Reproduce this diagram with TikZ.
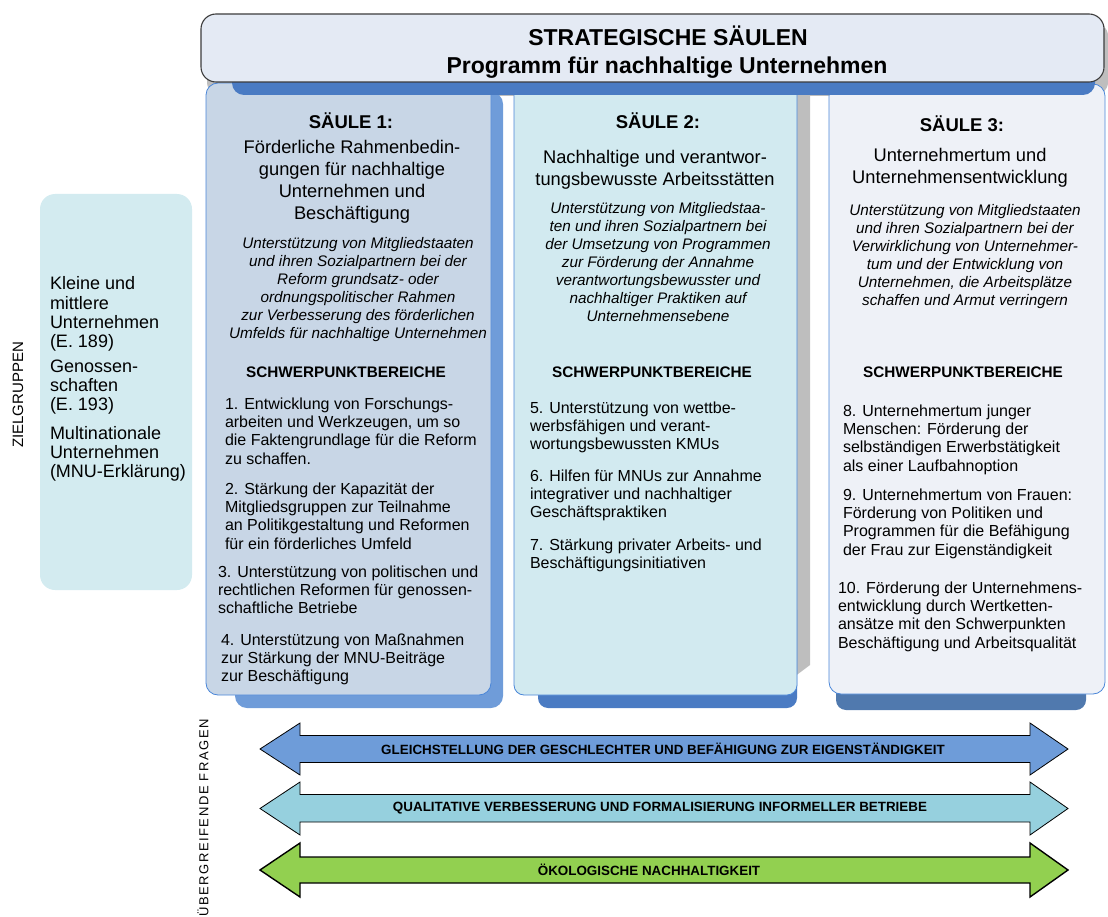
\documentclass[tikz,border=0pt]{standalone}
\usepackage{fontspec}
\setmainfont{Liberation Sans}
\newfontfamily\spacedsans[LetterSpace=12]{Liberation Sans}

% a block of lines whose reference point is the baseline of its first line
\newcommand\txtblock[2]{\begin{tabular}[t]{@{}#1@{}}#2\end{tabular}}

\definecolor{bannerfill}{HTML}{E4EAF4}
\definecolor{bannerline}{HTML}{3C3C3C}
\definecolor{stripblue}{HTML}{4A7BC3}
\definecolor{pillarline}{HTML}{4A86D8}
\definecolor{pOnefill}{HTML}{C8D6E6}
\definecolor{pOneshade}{HTML}{6F9CD9}
\definecolor{pTwofill}{HTML}{D2EAF0}
\definecolor{pTwoshade}{HTML}{4A7BC3}
\definecolor{pThreefill}{HTML}{EEF1F7}
\definecolor{pThreeshade}{HTML}{5079AE}
\definecolor{greyshade}{HTML}{BEBEBE}
\definecolor{groupfill}{HTML}{D3EBF0}
\definecolor{arrowA}{HTML}{6E9CD9}
\definecolor{arrowB}{HTML}{96D0DE}
\definecolor{arrowC}{HTML}{92D050}

\tikzset{
  lbl/.style={inner sep=0pt, outer sep=0pt},
  ctext/.style={lbl, anchor=base},
  ltext/.style={lbl, anchor=base west},
  pillarhead/.style={ctext, font=\bfseries\fontsize{18.5}{22}\selectfont},
  pillarsub/.style={ctext, font=\fontsize{18.3}{22}\selectfont},
  pillardesc/.style={ctext, font=\itshape\fontsize{15.3}{18}\selectfont},
  focushead/.style={ctext, font=\bfseries\fontsize{15.3}{18}\selectfont},
  focusitem/.style={ltext, font=\fontsize{16}{18.2}\selectfont},
  groupitem/.style={ltext, font=\fontsize{18}{19.2}\selectfont},
  pillarbox/.style={draw=pillarline, line width=0.8pt},
  blockarrow/.style={draw=black, line width=0.8pt, line join=miter},
  arrowtext/.style={lbl, anchor=center, font=\bfseries\fontsize{13.4}{15}\selectfont},
}

\begin{document}
\begin{tikzpicture}[x=1pt,y=-1pt]
\useasboundingbox (0,0) rectangle (1108,917);

% ---- shadows behind pillars and banner
\fill[greyshade, rounded corners=14pt] (207,22) rectangle (1108,96);
\fill[pOneshade, rounded corners=12pt] (235,92) rectangle (503,708);
\fill[greyshade] (790,95) -- (810,95) -- (810,665) -- (790,680) -- cycle;
\fill[pTwoshade, rounded corners=10pt] (538,600) rectangle (797,708);
\fill[pThreeshade, rounded corners=10pt] (836,600) rectangle (1086,710);

% ---- the three pillars
\path[pillarbox, fill=pOnefill, rounded corners=12pt] (206,83) rectangle (491,695);
\path[pillarbox, fill=pTwofill, rounded corners=10pt] (514,84) rectangle (797,695);
\path[pillarbox, fill=pThreefill, rounded corners=12pt] (829,84) rectangle (1105,694);

% ---- blue band under the banner
\fill[stripblue, rounded corners=12pt] (232,60) rectangle (1095,95);

% ---- banner
\path[draw=bannerline, line width=1.1pt, fill=bannerfill, rounded corners=15pt]
  (201,14) rectangle (1104,82);
\node[ctext, font=\bfseries\fontsize{23}{26}\selectfont] (title) at (668,46) {STRATEGISCHE SÄULEN};
\node[ctext, font=\bfseries\fontsize{23}{26}\selectfont] (subtitle) at (667,74) {Programm für nachhaltige Unternehmen};

% ---- target groups
\fill[groupfill, rounded corners=15pt] (40,194) rectangle (192,590);
\node[lbl, rotate=90, anchor=center, font=\fontsize{15}{17}\selectfont] (zg) at (18,395) {ZIELGRUPPEN};
\node[groupitem] (gA) at (50,290) {\txtblock{l}{Kleine und\\mittlere\\Unternehmen\\(E. 189)}};
\node[groupitem] (gB) at (50,372) {\txtblock{l}{Genossen-\\schaften\\(E. 193)}};
\node[groupitem] (gC) at (50,439) {\txtblock{l}{Multinationale\\Unternehmen\\(MNU-Erklärung)}};

% ---- pillar 1
\node[pillarhead] (pAh) at (351,129) {SÄULE 1:};
\node[pillarsub] (pAs) at (352,153.5) {\txtblock{c}{Förderliche Rahmenbedin-\\gungen für nachhaltige\\Unternehmen und\\Beschäftigung}};
\node[pillardesc] (pAd) at (358,248.5) {\txtblock{c}{Unterstützung von Mitgliedstaaten\\und ihren Sozialpartnern bei der\\Reform grundsatz- oder\\ordnungspolitischer Rahmen\\zur Verbesserung des förderlichen\\Umfelds für nachhaltige Unternehmen}};
\node[focushead] (pAf) at (346,377.5) {SCHWERPUNKTBEREICHE};
\node[focusitem] (i1) at (225,409.5) {\txtblock{l}{1. Entwicklung von Forschungs-\\arbeiten und Werkzeugen, um so\\die Faktengrundlage für die Reform\\zu schaffen.}};
\node[focusitem] (i2) at (225,494.5) {\txtblock{l}{2. Stärkung der Kapazität der\\Mitgliedsgruppen zur Teilnahme\\an Politikgestaltung und Reformen\\für ein förderliches Umfeld}};
\node[focusitem] (i3) at (218,577.5) {\txtblock{l}{3. Unterstützung von politischen und\\rechtlichen Reformen für genossen-\\schaftliche Betriebe}};
\node[focusitem] (i4) at (221,645.5) {\txtblock{l}{4. Unterstützung von Maßnahmen\\zur Stärkung der MNU-Beiträge\\zur Beschäftigung}};

% ---- pillar 2
\node[pillarhead] (pBh) at (658,129) {SÄULE 2:};
\node[pillarsub] (pBs) at (655,163.5) {\txtblock{c}{Nachhaltige und verantwor-\\tungsbewusste Arbeitsstätten}};
\node[pillardesc] (pBd) at (658,213.5) {\txtblock{c}{Unterstützung von Mitgliedstaa-\\ten und ihren Sozialpartnern bei\\der Umsetzung von Programmen\\zur Förderung der Annahme\\verantwortungsbewusster und\\nachhaltiger Praktiken auf\\Unternehmensebene}};
\node[focushead] (pBf) at (652,377.5) {SCHWERPUNKTBEREICHE};
\node[focusitem] (i5) at (530,413.5) {\txtblock{l}{5. Unterstützung von wettbe-\\werbsfähigen und verant-\\wortungsbewussten KMUs}};
\node[focusitem] (i6) at (530,481.5) {\txtblock{l}{6. Hilfen für MNUs zur Annahme\\integrativer und nachhaltiger\\Geschäftspraktiken}};
\node[focusitem] (i7) at (530,550.5) {\txtblock{l}{7. Stärkung privater Arbeits- und\\Beschäftigungsinitiativen}};

% ---- pillar 3
\node[pillarhead] (pCh) at (962,132) {SÄULE 3:};
\node[pillarsub] (pCs) at (960,161.5) {\txtblock{c}{Unternehmertum und\\Unternehmensentwicklung}};
\node[pillardesc] (pCd) at (965,215.5) {\txtblock{c}{Unterstützung von Mitgliedstaaten\\und ihren Sozialpartnern bei der\\Verwirklichung von Unternehmer-\\tum und der Entwicklung von\\Unternehmen, die Arbeitsplätze\\schaffen und Armut verringern}};
\node[focushead] (pCf) at (963,377.5) {SCHWERPUNKTBEREICHE};
\node[focusitem] (i8) at (843,416.5) {\txtblock{l}{8. Unternehmertum junger\\Menschen: Förderung der\\selbständigen Erwerbstätigkeit\\als einer Laufbahnoption}};
\node[focusitem] (i9) at (843,500.5) {\txtblock{l}{9. Unternehmertum von Frauen:\\Förderung von Politiken und\\Programmen für die Befähigung\\der Frau zur Eigenständigkeit}};
\node[focusitem] (i10) at (838,593.5) {\txtblock{l}{10. Förderung der Unternehmens-\\entwicklung durch Wertketten-\\ansätze mit den Schwerpunkten\\Beschäftigung und Arbeitsqualität}};

% ---- cross-cutting issues
\node[lbl, rotate=90, anchor=center, font=\spacedsans\fontsize{13}{15}\selectfont] (uf) at (203,818) {ÜBERGREIFENDE FRAGEN};

\path[blockarrow, fill=arrowA] (260,749) -- (300,723) -- (300,735.5) -- (1030,735.5) -- (1030,723)
  -- (1068,749) -- (1030,775) -- (1030,762.5) -- (300,762.5) -- (300,775) -- cycle;
\node[arrowtext] (aA) at (663,749) {GLEICHSTELLUNG DER GESCHLECHTER UND BEFÄHIGUNG ZUR EIGENSTÄNDIGKEIT};

\path[blockarrow, fill=arrowB] (260,808.5) -- (300,782) -- (300,794.5) -- (1030,794.5) -- (1030,782)
  -- (1068,808.5) -- (1030,835) -- (1030,822) -- (300,822) -- (300,835) -- cycle;
\node[arrowtext] (aB) at (660,808.5) {QUALITATIVE VERBESSERUNG UND FORMALISIERUNG INFORMELLER BETRIEBE};

\path[blockarrow, line width=1.4pt, fill=arrowC] (260,870) -- (300,843) -- (300,857) -- (1030,857) -- (1030,843)
  -- (1068,870) -- (1030,897) -- (1030,883) -- (300,883) -- (300,897) -- cycle;
\node[arrowtext] (aC) at (649,870) {ÖKOLOGISCHE NACHHALTIGKEIT};

\end{tikzpicture}
\end{document}
